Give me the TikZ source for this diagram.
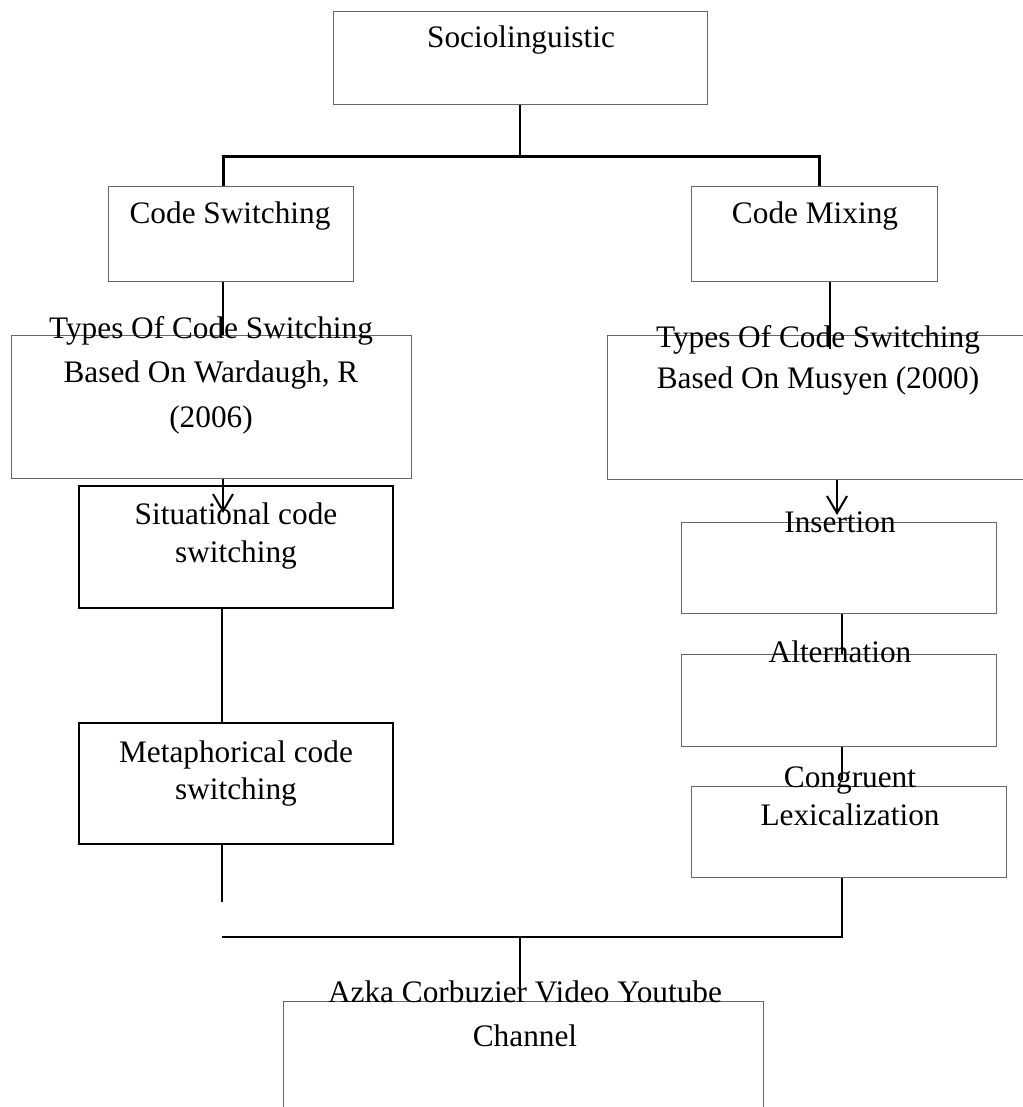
\documentclass[tikz,border=0pt]{standalone}
\usepackage{fontspec}
\setmainfont{Liberation Serif}
\usetikzlibrary{arrows.meta,calc}
\tikzset{
    box/.style = {draw=black!60, line width=0.5pt, rectangle, inner sep=0pt},
    boldbox/.style = {draw=black, line width=1pt, rectangle, inner sep=0pt},
    txt/.style = {font=\fontsize{15.65}{#1}\selectfont, align=center, anchor=base, inner sep=0pt},
    txt/.default = 19pt,
    link/.style = {draw, line width=1pt},
    fork/.style = {draw, line width=1.5pt},
    arr/.style = {draw, line width=1pt, -{Straight Barb[length=8.5pt,width=10pt]}}
}
\begin{document}
\begin{tikzpicture}[x=0.5pt,y=-0.5pt]
                \useasboundingbox (0,0) rectangle (1022,1107);
                \node[box,minimum width=187pt,minimum height=46.5pt] (soc) at (520,58.5) {};
                \node[box,minimum width=122.5pt,minimum height=47pt] (cs) at (230.5,234) {};
                \node[box,minimum width=123pt,minimum height=47pt] (cm) at (814,234) {};
                \node[box,minimum width=200pt,minimum height=71.5pt] (tl) at (211,406.5) {};
                \node[box,minimum width=211pt,minimum height=72pt] (tr) at (818,407) {};
                \node[boldbox,minimum width=157pt,minimum height=61pt] (sit) at (236,547) {};
                \node[boldbox,minimum width=157pt,minimum height=60.5pt] (met) at (236,783.5) {};
                \node[box,minimum width=157.5pt,minimum height=45.5pt] (ins) at (838.5,567.5) {};
                \node[box,minimum width=157.5pt,minimum height=46pt] (alt) at (838.5,700) {};
                \node[box,minimum width=157.5pt,minimum height=45.5pt] (cong) at (848.5,831.5) {};
                \node[box,minimum width=240pt,minimum height=70pt] (azka) at (523,1071) {};
                \node[txt] (socT) at (521,48) {Sociolinguistic};
                \node[txt] (csT) at (230,224) {Code Switching};
                \node[txt] (cmT) at (815,224) {Code Mixing};
                \node[txt=22.25pt] (tlT) at (211,427) {Types Of Code Switching\\Based On Wardaugh, R\\(2006)};
                \node[txt=20.5pt] (trT) at (818,388) {Types Of Code Switching\\Based On Musyen (2000)};
                \node[txt] (sitT) at (236,562) {Situational code\\switching};
                \node[txt=18.5pt] (metT) at (236,799) {Metaphorical code\\switching};
                \node[txt] (insT) at (840,532) {Insertion};
                \node[txt] (altT) at (840,662) {Alternation};
                \node[txt] (congT) at (850,825) {Congruent\\Lexicalization};
                \node[txt=22pt] (azkaT) at (525,1046) {Azka Corbuzier Video Youtube\\Channel};
                \coordinate (forkL) at (223,157);
                \coordinate (forkR) at (819,157);
                \coordinate (mixdrop) at (830,349);
                \coordinate (sittip) at (223,513);
                \coordinate (instip) at (837,515);
                \coordinate (leftcol) at (222,0);
                \coordinate (rightcol) at (842,0);
                \coordinate (metend) at (222,902);
                \coordinate (congtop) at (842,780);
                \coordinate (joinL) at (222,937);
                \coordinate (joinM) at (520,937);
                \coordinate (joinR) at (842,937);
                \draw [link,line width=0.65pt] (soc.south) -- (soc.south |- forkL);
                \draw [fork] (cs.north -| forkL) -- (forkL) -- (forkR) -- (cm.north -| forkR);
                \draw [link] (cs.south -| forkL) -- (tl.north -| forkL);
                \draw [link] (cm.south -| mixdrop) -- (mixdrop);
                \draw [arr] (tl.south -| sittip) -- (sittip);
                \draw [arr] (tr.south -| instip) -- (instip);
                \draw [link] (sit.south -| leftcol) -- (met.north -| leftcol);
                \draw [link] (met.south -| leftcol) -- (metend);
                \draw [link] (ins.south -| rightcol) -- (alt.north -| rightcol);
                \draw [link] (alt.south -| rightcol) -- (congtop);
                \draw [link] (cong.south -| rightcol) -- (joinR) -- (joinL);
                \draw [link] (joinM) -- (azka.north -| joinM);
\end{tikzpicture}
\end{document}
